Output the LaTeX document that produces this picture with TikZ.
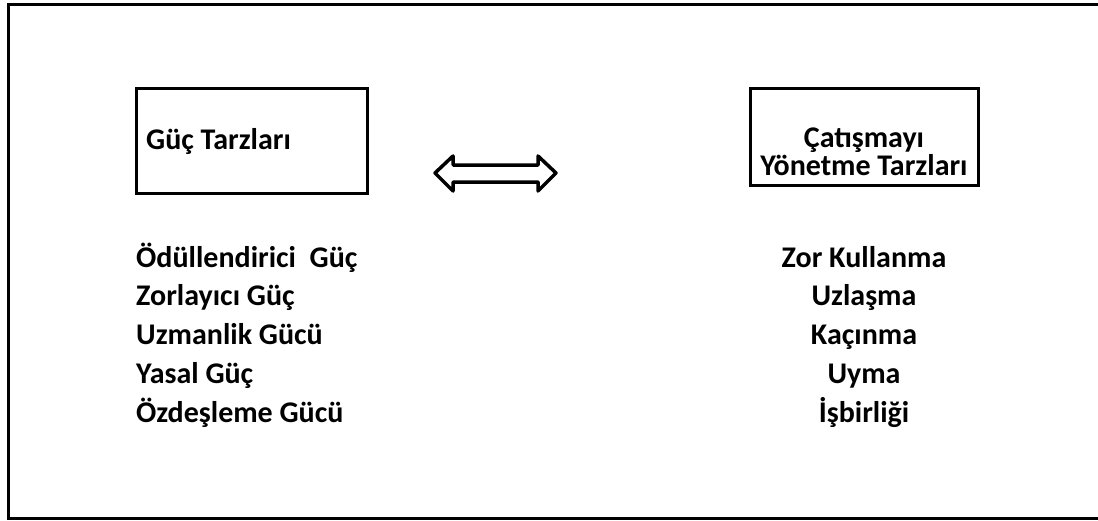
\documentclass[tikz,border=0pt]{standalone}
\usepackage{fontspec}
\setmainfont{Carlito}
\begin{document}
\begin{tikzpicture}[x=1pt,y=-1pt,
  frame/.style={line width=3pt},
  titlebox/.style={draw,line width=3pt},
  lbl/.style={font=\bfseries\fontsize{30}{33}\selectfont,inner sep=0pt},
  arrowshape/.style={line width=3.5pt,line join=round}]
\useasboundingbox (0,0) rectangle (1098,520);
\draw[frame] (1110,4.5) -- (8,4.5) -- (8,518.5) -- (1110,518.5);
% boxes
\draw[titlebox] (136,88) rectangle (367,193);
\node[lbl,anchor=base west] (lt) at (146,149) {Güç Tarzları};
\draw[titlebox] (750,88) rectangle (978,185);
\node[lbl,align=center,anchor=base,font=\bfseries\fontsize{30}{28}\selectfont] (rt) at (864,175) {Çatışmayı\\Yönetme Tarzları};
% arrow
\draw[arrowshape] (435,173) -- (453,156) -- (453,165) -- (538,165) -- (538,156) -- (556,173) -- (538,191) -- (538,182) -- (453,182) -- (453,191) -- cycle;
% left list
\foreach \t [count=\i] in {Ödüllendirici\ \ Güç, Zorlayıcı Güç, Uzmanlik Gücü, Yasal Güç, Özdeşleme Gücü}
  \node[lbl,anchor=base west] (l\i) at (136,267+38.8*\i-38.8) {\t};
\foreach \t [count=\i] in {Zor Kullanma, Uzlaşma, Kaçınma, Uyma, İşbirliği}
  \node[lbl,anchor=base] (r\i) at (864,267+38.8*\i-38.8) {\t};
\end{tikzpicture}
\end{document}
